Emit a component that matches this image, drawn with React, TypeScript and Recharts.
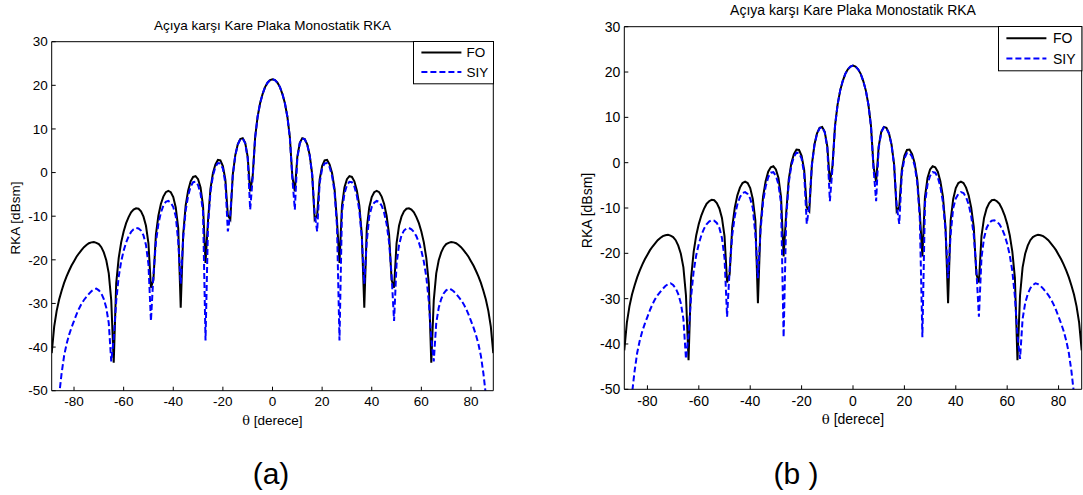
import React from 'react';
import { LineChart, Line, XAxis, YAxis, Legend } from 'recharts';

// Monostatic RCS of a square plate versus incidence angle (1 degree steps)
const thetaDeg = [
  -89, -88, -87, -86, -85, -84, -83, -82, -81, -80,
  -79, -78, -77, -76, -75, -74, -73, -72, -71, -70,
  -69, -68, -67, -66, -65, -64, -63, -62, -61, -60,
  -59, -58, -57, -56, -55, -54, -53, -52, -51, -50,
  -49, -48, -47, -46, -45, -44, -43, -42, -41, -40,
  -39, -38, -37, -36, -35, -34, -33, -32, -31, -30,
  -29, -28, -27, -26, -25, -24, -23, -22, -21, -20,
  -19, -18, -17, -16, -15, -14, -13, -12, -11, -10,
  -9, -8, -7, -6, -5, -4, -3, -2, -1, 0,
  1, 2, 3, 4, 5, 6, 7, 8, 9, 10,
  11, 12, 13, 14, 15, 16, 17, 18, 19, 20,
  21, 22, 23, 24, 25, 26, 27, 28, 29, 30,
  31, 32, 33, 34, 35, 36, 37, 38, 39, 40,
  41, 42, 43, 44, 45, 46, 47, 48, 49, 50,
  51, 52, 53, 54, 55, 56, 57, 58, 59, 60,
  61, 62, 63, 64, 65, 66, 67, 68, 69, 70,
  71, 72, 73, 74, 75, 76, 77, 78, 79, 80,
  81, 82, 83, 84, 85, 86, 87, 88, 89,
];

// FO (physical optics) result, dBsm
const rkaFO = [
  -41.4, -35.3, -31.7, -29.1, -27.1, -25.3, -23.8, -22.5, -21.3, -20.3,
  -19.3, -18.5, -17.8, -17.1, -16.6, -16.2, -16.0, -15.9, -16.1, -16.4,
  -17.1, -18.3, -20.1, -23.1, -29.3, -43.6, -25.4, -19.6, -16.0, -13.5,
  -11.6, -10.2, -9.1, -8.5, -8.2, -8.3, -8.9, -10.1, -12.2, -16.2,
  -26.4, -24.6, -14.2, -9.9, -7.2, -5.5, -4.5, -4.2, -4.5, -5.6,
  -8.0, -12.7, -31.0, -14.2, -7.5, -4.1, -2.0, -1.0, -0.8, -1.5,
  -3.4, -7.6, -20.7, -11.1, -3.7, -0.1, 1.9, 2.9, 2.8, 1.5,
  -1.6, -9.8, -10.7, -0.4, 4.0, 6.5, 7.7, 7.9, 6.8, 3.6,
  -4.3, -0.9, 8.1, 12.8, 15.9, 18.0, 19.6, 20.6, 21.2, 21.4,
  21.2, 20.6, 19.6, 18.0, 15.9, 12.8, 8.1, -0.9, -4.3, 3.6,
  6.8, 7.9, 7.7, 6.5, 4.0, -0.4, -10.7, -9.8, -1.6, 1.5,
  2.8, 2.9, 1.9, -0.1, -3.7, -11.1, -20.7, -7.6, -3.4, -1.5,
  -0.8, -1.0, -2.0, -4.1, -7.5, -14.2, -31.0, -12.7, -8.0, -5.6,
  -4.5, -4.2, -4.5, -5.5, -7.2, -9.9, -14.2, -24.6, -26.4, -16.2,
  -12.2, -10.1, -8.9, -8.3, -8.2, -8.5, -9.1, -10.2, -11.6, -13.5,
  -16.0, -19.6, -25.4, -43.6, -29.3, -23.1, -20.1, -18.3, -17.1, -16.4,
  -16.1, -15.9, -16.0, -16.2, -16.6, -17.1, -17.8, -18.5, -19.3, -20.3,
  -21.3, -22.5, -23.8, -25.3, -27.1, -29.1, -31.7, -35.3, -41.4,
];

// SIY result, dBsm
const rkaSIY = [
  -72.0, -63.0, -56.5, -51.0, -46.0, -42.0, -39.3, -37.2, -35.5, -34.0,
  -32.5, -31.2, -30.1, -29.2, -28.5, -27.8, -27.2, -26.8, -26.6, -27.0,
  -27.7, -29.0, -31.0, -34.5, -43.3, -38.0, -29.5, -23.9, -20.4, -17.9,
  -16.0, -14.6, -13.6, -13.0, -12.7, -12.8, -13.3, -14.4, -16.6, -21.0,
  -34.0, -23.5, -16.0, -11.8, -9.2, -7.6, -6.7, -6.5, -6.9, -7.9,
  -10.0, -15.8, -25.5, -15.0, -8.7, -5.3, -3.2, -2.2, -2.1, -2.9,
  -4.8, -9.0, -38.5, -12.3, -4.4, -0.7, 1.3, 2.2, 2.1, 0.9,
  -2.4, -13.5, -9.5, -0.6, 3.9, 6.4, 7.6, 7.8, 6.7, 3.3,
  -8.5, -1.3, 8.0, 12.8, 15.9, 18.0, 19.6, 20.6, 21.2, 21.4,
  21.2, 20.6, 19.6, 18.0, 15.9, 12.8, 8.0, -1.3, -8.5, 3.3,
  6.7, 7.8, 7.6, 6.4, 3.9, -0.6, -9.5, -13.5, -2.4, 0.9,
  2.1, 2.2, 1.3, -0.7, -4.4, -12.3, -38.5, -9.0, -4.8, -2.9,
  -2.1, -2.2, -3.2, -5.3, -8.7, -15.0, -25.5, -15.8, -10.0, -7.9,
  -6.9, -6.5, -6.7, -7.6, -9.2, -11.8, -16.0, -23.5, -34.0, -21.0,
  -16.6, -14.4, -13.3, -12.8, -12.7, -13.0, -13.6, -14.6, -16.0, -17.9,
  -20.4, -23.9, -29.5, -38.0, -43.3, -34.5, -31.0, -29.0, -27.7, -27.0,
  -26.6, -26.8, -27.2, -27.8, -28.5, -29.2, -30.1, -31.2, -32.5, -34.0,
  -35.5, -37.2, -39.3, -42.0, -46.0, -51.0, -56.5, -63.0, -72.0,
];

const xTicks = [-80, -60, -40, -20, 0, 20, 40, 60, 80];
const yTicks = [-50, -40, -30, -20, -10, 0, 10, 20, 30];
const xDomain = [-89, 89];
const yDomain = [-50, 30];

const chartTitle = 'Açıya karşı Kare Plaka Monostatik RKA';
const yAxisTitle = 'RKA [dBsm]';
const xAxisUnit = '[derece]';
const captions = ['(a)', '(b )'];

const FONT = '"Liberation Sans", Arial, Helvetica, sans-serif';
const dashByKey: Record<string, string | undefined> = { fo: undefined, siy: '6 3' };

const rows = thetaDeg.map((t, i) => ({ theta: t, fo: rkaFO[i], siy: rkaSIY[i] }));

type LegendGeo = {
  x: number; y: number; w: number; h: number;
  row0: number; rowGap: number; lx0: number; lx1: number; tx: number;
};

type PanelProps = {
  left: number; width: number; height: number;
  plotL: number; plotT: number; plotR: number; plotB: number;
  fs: number; tickGapX: number; tickGapY: number;
  legend: LegendGeo;
};

function makeLegend(geo: LegendGeo, fs: number) {
  return (props: any) => {
    const items = (props && props.payload) || [];
    return (
      <svg width={geo.w + 1} height={geo.h + 1} style={{ display: 'block', overflow: 'visible' }}>
        <rect x={0.5} y={0.5} width={geo.w} height={geo.h} fill="#fff" stroke="#000" strokeWidth={1} />
        {items.map((it: any, i: number) => {
          const y = geo.row0 + i * geo.rowGap;
          return (
            <g key={String(it.value)}>
              <line x1={geo.lx0} x2={geo.lx1} y1={y} y2={y} stroke={it.color} strokeWidth={2}
                strokeDasharray={dashByKey[String(it.dataKey)]} />
              <text x={geo.tx} y={y + fs * 0.36} fontSize={fs} fontFamily={FONT} fill="#000">{it.value}</text>
            </g>
          );
        })}
      </svg>
    );
  };
}

function Panel(p: PanelProps) {
  const yAxisW = 40;
  const xAxisH = 30;
  const margin = {
    left: p.plotL - p.left - yAxisW,
    top: p.plotT - 1,
    right: p.left + p.width - p.plotR - 1,
    bottom: p.height - p.plotB - xAxisH,
  };
  const tickStyle = { fontSize: p.fs, fill: '#000', fontFamily: FONT };
  const axisStroke = { stroke: '#000', strokeWidth: 1 };
  return (
    <div style={{ position: 'absolute', left: p.left, top: 0, width: p.width, height: p.height }}>
      <LineChart width={p.width} height={p.height} data={rows} margin={margin}>
        <XAxis dataKey="theta" type="number" domain={xDomain} ticks={xTicks} interval={0}
          allowDataOverflow height={xAxisH} tickSize={-4} tickMargin={4 + p.tickGapX}
          tick={tickStyle} axisLine={axisStroke} tickLine={axisStroke} />
        <XAxis xAxisId="top" orientation="top" type="number" domain={xDomain} ticks={xTicks} interval={0}
          allowDataOverflow height={1} tickSize={-4} tick={false} axisLine={axisStroke} tickLine={axisStroke} />
        <YAxis type="number" domain={yDomain} ticks={yTicks} interval={0} allowDataOverflow
          width={yAxisW} tickSize={-4} tickMargin={4 + p.tickGapY}
          tick={tickStyle} axisLine={axisStroke} tickLine={axisStroke} />
        <YAxis yAxisId="right" orientation="right" type="number" domain={yDomain} ticks={yTicks} interval={0}
          allowDataOverflow width={1} tickSize={-4} tick={false} axisLine={axisStroke} tickLine={axisStroke} />
        <Line dataKey="fo" name="FO" type="linear" stroke="#000000" strokeWidth={2}
          dot={false} activeDot={false} isAnimationActive={false} />
        <Line dataKey="siy" name="SIY" type="linear" stroke="#0000ff" strokeWidth={2}
          strokeDasharray={dashByKey.siy} dot={false} activeDot={false} isAnimationActive={false} />
        <Legend layout="horizontal" verticalAlign="middle" align="center"
          content={makeLegend(p.legend, p.fs)}
          wrapperStyle={{ left: p.legend.x - p.left - 0.5, top: p.legend.y - 0.5, width: p.legend.w + 1, height: p.legend.h + 1 }} />
      </LineChart>
    </div>
  );
}

type Labels = {
  fs: number; cx: number; titleY: number; xLabelY: number; yLabelX: number; yLabelY: number;
  capX: number; caption: string;
};

function PanelText(l: Labels) {
  return (
    <g fontFamily={FONT} fill="#000">
      <text x={l.cx} y={l.titleY} fontSize={l.fs} textAnchor="middle">{chartTitle}</text>
      <text x={l.cx} y={l.xLabelY} fontSize={l.fs} textAnchor="middle">
        <tspan fontFamily='"DejaVu Serif", "Liberation Serif", serif' fontSize={l.fs * 0.95}>θ</tspan>
        <tspan> {xAxisUnit}</tspan>
      </text>
      <text x={l.yLabelX} y={l.yLabelY} fontSize={l.fs} textAnchor="middle"
        transform={`rotate(-90, ${l.yLabelX}, ${l.yLabelY})`}>{yAxisTitle}</text>
      <text x={l.capX} y={483.5} fontSize={30} textAnchor="middle">{l.caption}</text>
    </g>
  );
}

export default function App() {
  return (
    <div style={{ position: 'absolute', left: 0, top: 0, width: 1083, height: 495, background: '#fff', overflow: 'hidden' }}>
      <Panel left={0} width={540} height={440}
        plotL={51.7} plotT={41.7} plotR={493.3} plotB={390.7}
        fs={13.5} tickGapX={6} tickGapY={4}
        legend={{ x: 413.3, y: 41.7, w: 80, h: 42.3, row0: 11.6, rowGap: 19.4, lx0: 8.4, lx1: 48.4, tx: 53.4 }} />
      <Panel left={560} width={523} height={440}
        plotL={624.3} plotT={26.7} plotR={1081.7} plotB={389.3}
        fs={14} tickGapX={7} tickGapY={4}
        legend={{ x: 998.3, y: 26.7, w: 83.4, h: 44.3, row0: 12.3, rowGap: 20.3, lx0: 8.4, lx1: 48.4, tx: 55 }} />
      <svg width={1083} height={495} style={{ position: 'absolute', left: 0, top: 0, pointerEvents: 'none' }}>
        <PanelText fs={13.5} cx={272.5} titleY={30} xLabelY={425} yLabelX={20} yLabelY={218}
          capX={271} caption={captions[0]} />
        <PanelText fs={14} cx={853} titleY={15.3} xLabelY={424} yLabelX={592} yLabelY={210.5}
          capX={796} caption={captions[1]} />
      </svg>
    </div>
  );
}
